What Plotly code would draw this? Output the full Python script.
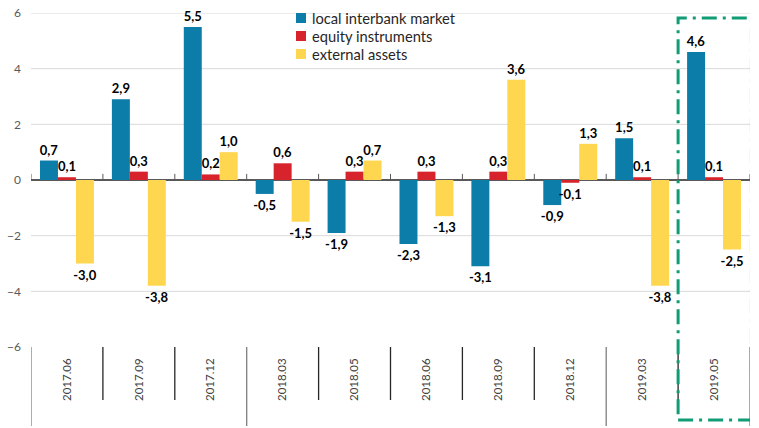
import plotly.graph_objects as go

categories = ["2017.06", "2017.09", "2017.12", "2018.03", "2018.05",
              "2018.06", "2018.09", "2018.12", "2019.03", "2019.05"]
local_interbank = [0.7, 2.9, 5.5, -0.5, -1.9, -2.3, -3.1, -0.9, 1.5, 4.6]
equity_instruments = [0.1, 0.3, 0.2, 0.6, 0.3, 0.3, 0.3, -0.1, 0.1, 0.1]
external_assets = [-3.0, -3.8, 1.0, -1.5, 0.7, -1.3, 3.6, 1.3, -3.8, -2.5]
y_ticks = [-6, -4, -2, 0, 2, 4, 6]
highlighted = "2019.05"

series = [
    ("local interbank market", local_interbank, "#0B7DA8"),
    ("equity instruments", equity_instruments, "#D7232C"),
    ("external assets", external_assets, "#FED650"),
]

FONT = "Lato"
W, H = 759, 428
ML, MR, MT, MB = 31, 9, 13, 81
PW, PH = W - ML - MR, H - MT - MB


def px_x(p):
    return (p - ML) / PW


def px_y(p):
    return (H - MB - p) / PH


def fmt(v):
    return f"{v:.1f}".replace(".", ",")


fig = go.Figure()
for name, vals, color in series:
    fig.add_trace(go.Bar(
        name=name, x=categories, y=vals,
        marker=dict(color=color, line=dict(width=0)),
        text=[fmt(v) for v in vals],
        textposition="outside",
        constraintext="none",
        cliponaxis=False,
        showlegend=False,
        textfont=dict(family=FONT, size=13, color="#000000", weight="bold"),
    ))

shapes = []
annotations = []
n = len(categories)
# horizontal gridlines (none at the bottom edge or at zero)
for v in y_ticks:
    if v != min(y_ticks) and v != 0:
        shapes.append(dict(type="line", xref="paper", yref="y", x0=0, x1=1,
                           y0=v, y1=v, layer="below",
                           line=dict(color="#D9D9D9", width=1)))
# tick marks on the zero line at category boundaries
for i in range(n + 1):
    shapes.append(dict(type="line", xref="x", yref="y", x0=i - 0.5, x1=i - 0.5,
                       y0=0, y1=0.22, line=dict(color="#595959", width=1)))
# separators below plot; longer where the year changes
for i in range(n + 1):
    if i == 0 or i == n or categories[i][:4] != categories[i - 1][:4]:
        y1, col = px_y(426), "#7f7f7f"
    else:
        y1, col = px_y(400), "#262626"
    shapes.append(dict(type="line", xref="x", yref="paper", x0=i - 0.5, x1=i - 0.5,
                       y0=0, y1=y1, line=dict(color=col, width=1.3)))

# highlight box around last category
hi = categories.index(highlighted)
shapes.append(dict(type="rect", xref="x", yref="paper",
                   x0=hi - 0.5, x1=hi + 0.52, y0=px_y(420), y1=px_y(18),
                   line=dict(color="#109C74", width=3, dash="longdashdot"),
                   fillcolor="rgba(0,0,0,0)", layer="above"))

# legend (drawn manually to match the compact row spacing)
for k, (name, vals, color) in enumerate(series):
    cy = 18 + 18 * k
    shapes.append(dict(type="rect", xref="paper", yref="paper",
                       x0=px_x(296), x1=px_x(306), y0=px_y(cy + 5), y1=px_y(cy - 5),
                       fillcolor=color, line=dict(width=0)))
    annotations.append(dict(xref="paper", yref="paper", x=px_x(310), y=px_y(cy),
                            xanchor="left", yanchor="middle", showarrow=False,
                            text=name,
                            font=dict(family=FONT, size=14.7, color="#262626")))

fig.update_layout(
    width=W, height=H,
    margin=dict(l=ML, r=MR, t=MT, b=MB),
    plot_bgcolor="white", paper_bgcolor="white",
    barmode="group", bargap=0.25, bargroupgap=0,
    font=dict(family=FONT, color="#404040"),
    showlegend=False,
    shapes=shapes,
    annotations=annotations,
    xaxis=dict(type="category", range=[-0.5, n - 0.5], showgrid=False,
               showline=False, zeroline=False, tickangle=-90, ticks="",
               ticklabelstandoff=8, automargin=False,
               tickfont=dict(family=FONT, size=11.5, color="#404040")),
    yaxis=dict(range=[-6, 6], tickvals=y_ticks, showgrid=False,
               automargin=False,
               zeroline=True, zerolinecolor="#595959", zerolinewidth=1.5,
               showline=False, ticks="", ticklabelstandoff=9,
               tickfont=dict(family=FONT, size=12, color="#595959")),
)

fig.write_html("out.html",
               config={"displayModeBar": False},
               post_script="document.body.style.margin='0';"
                           "document.body.style.overflow='hidden';")
